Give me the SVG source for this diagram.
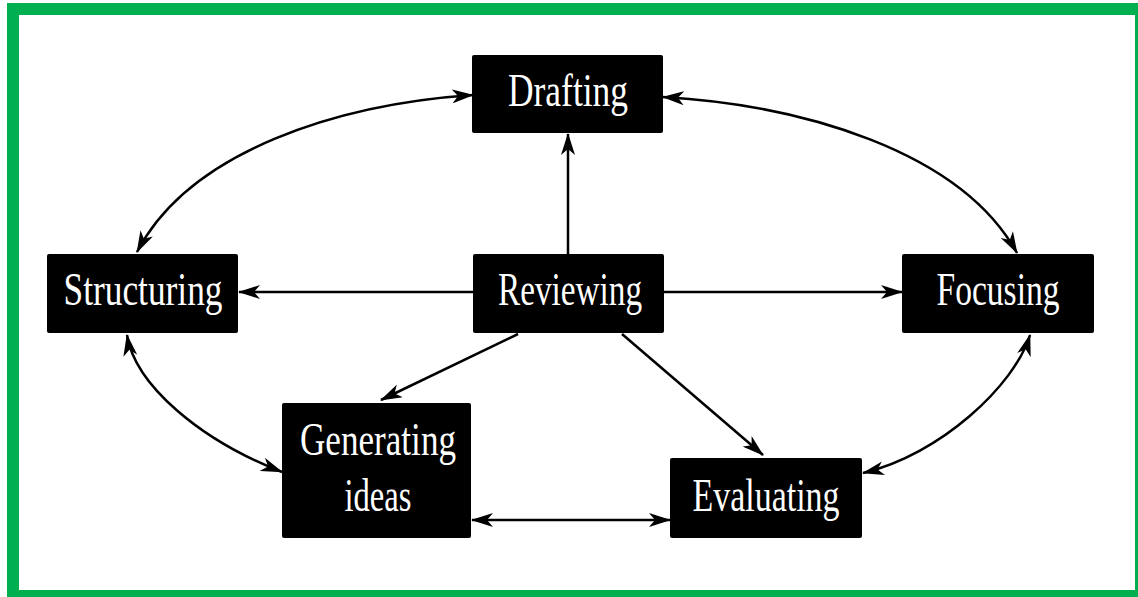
<svg xmlns="http://www.w3.org/2000/svg" width="1138" height="597" viewBox="0 0 1138 597">
<style>
.box{fill:#000;}
.lbl{fill:#fff;font-family:"Liberation Serif",serif;font-size:46px;text-anchor:middle;}
.c{fill:none;stroke:#000;stroke-width:2.5;}
</style>
<defs>
<marker id="ah" viewBox="0 0 22 14" refX="21" refY="7" markerWidth="22" markerHeight="14" markerUnits="userSpaceOnUse" orient="auto-start-reverse">
<path d="M0,0 L22,7 L0,14 L6,7 Z" fill="#000"/>
</marker>
</defs>
<rect x="0" y="0" width="1138" height="597" fill="#fff"/>
<path d="M7,3 H1138 V597 H7 Z M19,15 V590 H1135 V15 Z" fill="#00b050" fill-rule="evenodd"/>
<g id="connectors">
<path class="c" d="M568,254 V134" marker-end="url(#ah)"/>
<path class="c" d="M473,292 H239" marker-end="url(#ah)"/>
<path class="c" d="M664,292 H902" marker-end="url(#ah)"/>
<path class="c" d="M518,334 L381,400" marker-end="url(#ah)"/>
<path class="c" d="M622,334 L763,455" marker-end="url(#ah)"/>
<path class="c" d="M473,95 C340,104 190,150 137,252" marker-start="url(#ah)" marker-end="url(#ah)"/>
<path class="c" d="M663,97 C800,105 960,150 1017,253" marker-start="url(#ah)" marker-end="url(#ah)"/>
<path class="c" d="M127,335 C135,385 200,440 282,472" marker-start="url(#ah)" marker-end="url(#ah)"/>
<path class="c" d="M1030,335 C1015,385 940,455 863,473" marker-start="url(#ah)" marker-end="url(#ah)"/>
<path class="c" d="M472,520 H670" marker-start="url(#ah)" marker-end="url(#ah)"/>
</g>
<g id="drafting">
<rect class="box" x="472" y="55" width="191" height="78" rx="2"/>
<text class="lbl" x="568" y="106" textLength="120" lengthAdjust="spacingAndGlyphs">Drafting</text>
</g>
<g id="structuring">
<rect class="box" x="47" y="254" width="191" height="79" rx="2"/>
<text class="lbl" x="143" y="305" textLength="159" lengthAdjust="spacingAndGlyphs">Structuring</text>
</g>
<g id="reviewing">
<rect class="box" x="473" y="254" width="191" height="79" rx="2"/>
<text class="lbl" x="570" y="305" textLength="144" lengthAdjust="spacingAndGlyphs">Reviewing</text>
</g>
<g id="focusing">
<rect class="box" x="902" y="254" width="192" height="79" rx="2"/>
<text class="lbl" x="998" y="305" textLength="123" lengthAdjust="spacingAndGlyphs">Focusing</text>
</g>
<g id="generating-ideas">
<rect class="box" x="282" y="403" width="189" height="135" rx="2"/>
<text class="lbl" x="378" y="455" textLength="156" lengthAdjust="spacingAndGlyphs">Generating</text>
<text class="lbl" x="378" y="511" textLength="67" lengthAdjust="spacingAndGlyphs">ideas</text>
</g>
<g id="evaluating">
<rect class="box" x="670" y="458" width="192" height="80" rx="2"/>
<text class="lbl" x="766" y="511" textLength="147" lengthAdjust="spacingAndGlyphs">Evaluating</text>
</g>
</svg>
